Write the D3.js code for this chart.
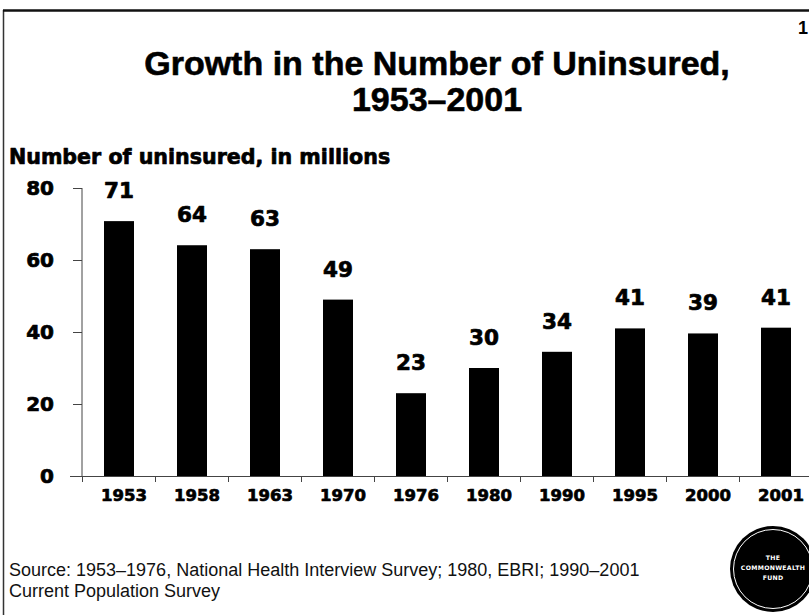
<!DOCTYPE html>
<html><head><meta charset="utf-8">
<script src="https://cdn.jsdelivr.net/npm/d3@7"></script>
<style>
html,body{margin:0;padding:0;background:#fff;overflow:hidden}
svg{display:block}
</style></head>
<body>
<script>
const years = ["1953","1958","1963","1970","1976","1980","1990","1995","2000","2001"];
const values = [70.8, 64.1, 63, 49, 23, 30, 34.5, 41, 39.6, 41.2];
const valueLabels = ["71","64","63","49","23","30","34","41","39","41"];
const yTicks = [0, 20, 40, 60, 80];
const titleLines = ["Growth in the Number of Uninsured,", "1953\u20132001"];
const subtitle = "Number of uninsured, in millions";
const sourceLines = ["Source: 1953\u20131976, National Health Interview Survey; 1980, EBRI; 1990\u20132001", "Current Population Survey"];
const logoLines = ["THE", "COMMONWEALTH", "FUND"];

const W = 809, H = 615;
const svg = d3.select("body").append("svg").attr("width", W).attr("height", H);
const black = "#000";
const heavy = "'DejaVu Sans', sans-serif";
const arial = "'Liberation Sans', Arial, sans-serif";

// frame
svg.append("line").attr("x1", 3.5).attr("x2", 3.5).attr("y1", 10).attr("y2", H).attr("stroke", "#333").attr("stroke-width", 1.5);
svg.append("line").attr("x1", 3).attr("x2", W).attr("y1", 10.5).attr("y2", 10.5).attr("stroke", "#111").attr("stroke-width", 2.5);
svg.append("text").attr("x", 798).attr("y", 34).attr("font-family", arial).attr("font-weight", "bold").attr("font-size", 18).text("1");

// title
svg.append("g").selectAll("text").data(titleLines).join("text")
  .attr("x", 437).attr("y", (d, i) => 75 + i * 36)
  .attr("text-anchor", "middle").attr("font-family", arial).attr("font-weight", "bold")
  .attr("font-size", 34).attr("fill", black).attr("stroke", black).attr("stroke-width", 0.6).text(d => d);

const heavyText = sel => sel.attr("font-family", heavy).attr("font-weight", "bold").attr("fill", black)
  .attr("stroke", black).attr("stroke-width", 0.7).attr("stroke-linejoin", "round");

svg.append("text").attr("x", 9).attr("y", 164).attr("font-size", 20.6).call(heavyText).text(subtitle);

// scales
const x = d3.scaleBand().domain(years).range([82.5, 812.5]).paddingInner(0.589).paddingOuter(0.2945);
const y = d3.scaleLinear().domain([0, 80]).range([476, 188]);

const axisColor = "#444";
// y axis
svg.append("line").attr("x1", 82).attr("x2", 82).attr("y1", y(80)).attr("y2", y(0)).attr("stroke", axisColor).attr("stroke-width", 1);
svg.append("g").selectAll("line").data(yTicks.filter(d => d > 0)).join("line")
  .attr("x1", 73).attr("x2", 82).attr("y1", d => Math.round(y(d)) + 0.5).attr("y2", d => Math.round(y(d)) + 0.5)
  .attr("stroke", axisColor);
svg.append("g").selectAll("text").data(yTicks).join("text")
  .attr("x", 54).attr("y", d => y(d) + 7).attr("text-anchor", "end")
  .attr("font-size", 20).call(heavyText)
  .text(d => d);

// bars
const off = (x.step() - x.bandwidth()) / 2;
svg.append("g").selectAll("rect").data(years).join("rect")
  .attr("x", d => x(d)).attr("width", x.bandwidth())
  .attr("y", (d, i) => y(values[i])).attr("height", (d, i) => y(0) - y(values[i]))
  .attr("fill", black);

// x axis
svg.append("line").attr("x1", 70).attr("x2", W).attr("y1", 476.5).attr("y2", 476.5).attr("stroke", axisColor).attr("stroke-width", 1.2);
svg.append("g").selectAll("line").data(years).join("line")
  .attr("x1", d => x(d) - off).attr("x2", d => x(d) - off).attr("y1", 476).attr("y2", 482)
  .attr("stroke", axisColor);
svg.append("g").selectAll("text").data(years).join("text")
  .attr("x", d => x(d) + x.bandwidth() / 2 + 5).attr("y", 501).attr("text-anchor", "middle")
  .attr("font-size", 16.5).call(heavyText)
  .text(d => d);

// value labels
svg.append("g").selectAll("text").data(years).join("text")
  .attr("x", d => x(d) + x.bandwidth() / 2).attr("y", (d, i) => y(values[i]) - 23).attr("text-anchor", "middle")
  .attr("font-size", 21.5).call(heavyText)
  .text((d, i) => valueLabels[i]);

// source
svg.append("g").selectAll("text").data(sourceLines).join("text")
  .attr("x", 9).attr("y", (d, i) => 576 + i * 21)
  .attr("font-family", arial).attr("font-size", 18).attr("fill", "#111").text(d => d);

// logo
const logo = svg.append("g").attr("transform", "translate(773,569)");
logo.append("ellipse").attr("rx", 43).attr("ry", 43).attr("fill", "#000");
logo.append("ellipse").attr("rx", 39.5).attr("ry", 39.5).attr("fill", "none").attr("stroke", "#fff").attr("stroke-width", 1);
logo.selectAll("text").data(logoLines).join("text")
  .attr("x", 0).attr("y", (d, i) => -9 + i * 10).attr("text-anchor", "middle")
  .attr("font-family", heavy).attr("font-weight", "bold").attr("font-size", 6.2).attr("fill", "#fff")
  .attr("letter-spacing", 0.3).text(d => d);
</script>
</body></html>
